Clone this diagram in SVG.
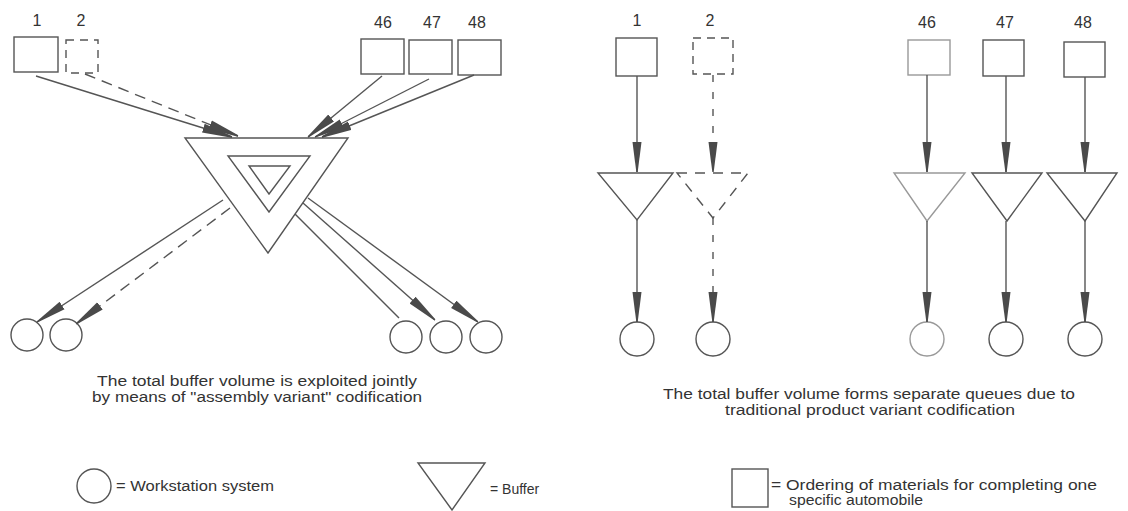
<svg xmlns="http://www.w3.org/2000/svg" width="1128" height="511" viewBox="0 0 1128 511">
<style>
.bx{fill:#fff;stroke:#555;stroke-width:1.4}
.bxd{fill:none;stroke:#555;stroke-width:1.4;stroke-dasharray:8 6}
.bf{fill:#fff;stroke:#555;stroke-width:1.4;stroke-linejoin:miter}
.bfd{fill:none;stroke:#555;stroke-width:1.4;stroke-dasharray:10 8}
.ws{fill:#fff;stroke:#555;stroke-width:1.4}
.faint{stroke:#999}
.ln{fill:none;stroke:#555;stroke-width:1.4}
.lnd{fill:none;stroke:#555;stroke-width:1.4;stroke-dasharray:11 7}
.lnv{fill:none;stroke:#555;stroke-width:1.4;stroke-dasharray:7 10}
.arr{marker-end:url(#ah)}
text{font-family:"Liberation Sans",Arial,sans-serif;font-size:16px;fill:#333}
.cap{font-size:14px}
.c{text-anchor:middle}
</style>
<defs>
<marker id="ah" viewBox="0 0 30 10" refX="30" refY="5" markerWidth="30" markerHeight="10" markerUnits="userSpaceOnUse" orient="auto">
<path d="M0,0.5 L30,4.3 L30,5.7 L0,9.5 Z" fill="#4a4a4a"/>
</marker>
</defs>

<!-- LEFT: joint buffer -->
<g id="L-order-1"><text class="c" x="37" y="26">1</text><rect class="bx" x="14" y="37" width="44" height="35"/></g>
<g id="L-order-2"><text class="c" x="81" y="26">2</text><rect class="bxd" x="66" y="40" width="32" height="33"/></g>
<g id="L-order-46"><text class="c" x="383" y="28">46</text><rect class="bx" x="361" y="39" width="43" height="35"/></g>
<g id="L-order-47"><text class="c" x="432" y="28">47</text><rect class="bx" x="409" y="40" width="43" height="34"/></g>
<g id="L-order-48"><text class="c" x="477" y="28">48</text><rect class="bx" x="458" y="40" width="43" height="35"/></g>
<g id="L-buffer">
<polygon class="bf" points="185,138 348,138 268,253"/>
<polygon class="bf" points="228,156 310,156 269,212"/>
<polygon class="bf" points="249,166 290,166 269,194"/>
</g>
<g id="L-ws-1"><circle class="ws" cx="27" cy="335" r="16"/></g>
<g id="L-ws-2"><circle class="ws" cx="66" cy="335" r="16"/></g>
<g id="L-ws-46"><circle class="ws" cx="406" cy="337" r="16"/></g>
<g id="L-ws-47"><circle class="ws" cx="446" cy="337" r="16"/></g>
<g id="L-ws-48"><circle class="ws" cx="486" cy="337" r="16"/></g>

<!-- RIGHT: separate queues -->
<g id="R-order-1"><text class="c" x="637" y="26">1</text><rect class="bx" x="616" y="38" width="41" height="38"/></g>
<g id="R-order-2"><text class="c" x="710" y="26">2</text><rect class="bxd" x="693" y="38" width="40" height="36"/></g>
<g id="R-order-46"><text class="c" x="927" y="28">46</text><rect class="bx faint" x="908" y="40" width="42" height="35"/></g>
<g id="R-order-47"><text class="c" x="1005" y="28">47</text><rect class="bx" x="983" y="40" width="41" height="36"/></g>
<g id="R-order-48"><text class="c" x="1083" y="28">48</text><rect class="bx" x="1064" y="42" width="41" height="35"/></g>
<g id="R-buffer-1"><polygon class="bf" points="598,173 673,173 637,220"/></g>
<g id="R-buffer-2"><polygon class="bfd" points="677,173 748,173 713,218"/></g>
<g id="R-buffer-46"><polygon class="bf faint" points="894,173 965,173 927,221"/></g>
<g id="R-buffer-47"><polygon class="bf" points="972,173 1042,173 1007,221"/></g>
<g id="R-buffer-48"><polygon class="bf" points="1047,173 1117,173 1085,221"/></g>
<g id="R-ws-1"><circle class="ws" cx="637" cy="339" r="17"/></g>
<g id="R-ws-2"><circle class="ws" cx="713" cy="339" r="17"/></g>
<g id="R-ws-46"><circle class="ws faint" cx="927" cy="339" r="17"/></g>
<g id="R-ws-47"><circle class="ws" cx="1006" cy="339" r="17"/></g>
<g id="R-ws-48"><circle class="ws" cx="1085" cy="339" r="17"/></g>

<g id="connectors">
<line class="ln arr" x1="36" y1="76" x2="232" y2="137"/>
<line class="lnd arr" x1="85" y1="74" x2="238" y2="136"/>
<line class="ln arr" x1="382" y1="76" x2="308" y2="137"/>
<line class="ln arr" x1="429" y1="79" x2="315" y2="137"/>
<line class="ln arr" x1="474" y1="75" x2="322" y2="137"/>
<line class="ln arr" x1="223" y1="200" x2="37" y2="322"/>
<line class="lnd arr" x1="230" y1="208" x2="76" y2="324"/>
<line class="ln" x1="295" y1="214" x2="399" y2="318"/>
<line class="ln arr" x1="303" y1="203" x2="435" y2="320"/>
<line class="ln arr" x1="308" y1="198" x2="478" y2="322"/>

<line class="ln arr" x1="637" y1="76" x2="637" y2="172"/>
<line class="lnv arr" x1="713" y1="75" x2="713" y2="172"/>
<line class="ln faint arr" x1="927" y1="75" x2="927" y2="172"/>
<line class="ln arr" x1="1006" y1="76" x2="1006" y2="172"/>
<line class="ln arr" x1="1085" y1="77" x2="1085" y2="172"/>
<line class="ln arr" x1="637" y1="220" x2="637" y2="322"/>
<line class="lnv arr" x1="713" y1="218" x2="713" y2="322"/>
<line class="ln faint arr" x1="927" y1="221" x2="927" y2="322"/>
<line class="ln arr" x1="1006" y1="221" x2="1006" y2="322"/>
<line class="ln arr" x1="1085" y1="221" x2="1085" y2="322"/>
</g>

<g id="captions">
<text class="c cap" x="257" y="386" textLength="320" lengthAdjust="spacingAndGlyphs">The total buffer volume is exploited jointly</text>
<text class="c cap" x="257" y="401.5" textLength="330" lengthAdjust="spacingAndGlyphs">by means of "assembly variant" codification</text>
<text class="c cap" x="869" y="399" textLength="412" lengthAdjust="spacingAndGlyphs">The total buffer volume forms separate queues due to</text>
<text class="c cap" x="870" y="414.5" textLength="290" lengthAdjust="spacingAndGlyphs">traditional product variant codification</text>
</g>

<g id="legend-ws"><circle class="ws" cx="94" cy="486" r="17"/><text class="cap" x="116" y="491" textLength="158" lengthAdjust="spacingAndGlyphs">= Workstation system</text></g>
<g id="legend-buffer"><polygon class="bf" points="418,463 485,463 452,510"/><text class="cap" x="490" y="494">= Buffer</text></g>
<g id="legend-order"><rect class="bx" x="732" y="469" width="36" height="38"/><text class="cap" x="771" y="490" textLength="326" lengthAdjust="spacingAndGlyphs">= Ordering of materials for completing one</text><text class="cap" x="789" y="505" textLength="134" lengthAdjust="spacingAndGlyphs">specific automobile</text></g>
</svg>
